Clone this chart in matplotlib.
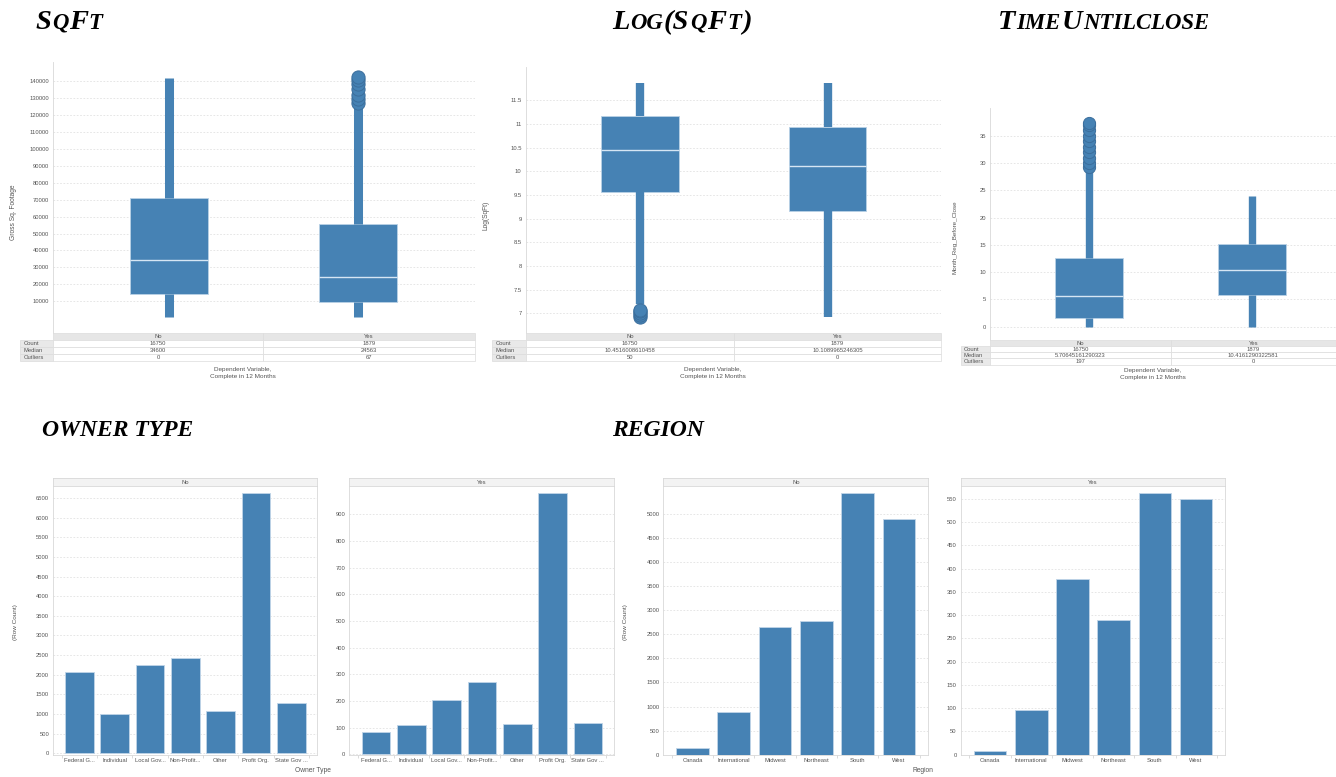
import matplotlib
matplotlib.use("Agg")
import matplotlib.pyplot as plt
from matplotlib.table import Table
import numpy as np

plt.rcParams["font.family"] = ["Liberation Sans", "DejaVu Sans"]

# ---- data ----
groups = ["No", "Yes"]
row_names = ["Count", "Median", "Outliers"]
counts = ["16750", "1879"]

sqft_q1 = [14200, 9600]
sqft_med = [34600, 24563]
sqft_q3 = [70800, 55500]
sqft_lo = [1000, 1000]
sqft_hi = [141600, 126000]
sqft_fliers = [[], [126800, 129500, 132000, 135100, 138000, 140500, 142200]]
sqft_median_txt = ["34600", "24563"]
sqft_outliers = ["0", "67"]

log_q1 = [9.556, 9.17]
log_med = [10.4516, 10.109]
log_q3 = [11.17, 10.93]
log_lo = [7.2, 6.92]
log_hi = [11.87, 11.87]
log_fliers = [[6.93, 6.97, 7.0, 7.04, 7.07], []]
log_median_txt = ["10.4516008610458", "10.1089965246305"]
log_outliers = ["50", "0"]

time_q1 = [1.53, 5.86]
time_med = [5.706, 10.416]
time_q3 = [12.65, 15.15]
time_lo = [0, 0]
time_hi = [29, 24]
time_fliers = [[29.3, 30, 31, 32, 33, 34, 35, 36, 37, 37.4], []]
time_median_txt = ["5.70645161290323", "10.4161290322581"]
time_outliers = ["197", "0"]

owner_types = ["Federal G...", "Individual", "Local Gov...", "Non-Profit...",
               "Other", "Profit Org.", "State Gov ..."]
owner_no = [2070, 990, 2240, 2420, 1085, 6635, 1285]
owner_yes = [84, 110, 204, 269, 112, 981, 117]

regions = ["Canada", "International", "Midwest", "Northeast", "South", "West"]
region_no = [130, 880, 2655, 2780, 5435, 4895]
region_yes = [8, 96, 378, 289, 563, 549]

# ---- layout helpers (pixel coords, origin top-left) ----
W, H = 1336, 777
BLUE = "#4682b4"
GRID = "#e2e2e2"
TXT = "#555555"
FRAME = "#d8d8d8"


def rect(x0, y0, x1, y1):
    return [x0 / W, 1 - y1 / H, (x1 - x0) / W, (y1 - y0) / H]


def ftext(x, y, s, **kw):
    kw.setdefault("color", TXT)
    kw.setdefault("ha", "center")
    kw.setdefault("va", "center")
    return fig.text(x / W, 1 - y / H, s, **kw)


fig = plt.figure(figsize=(W / 100, H / 100), dpi=100)
base = fig.add_axes([0, 0, 1, 1])
base.axis("off")


def caps_title(x, y, text, big=20.5, small=16.4):
    # small caps: lowercase letters become smaller capitals
    runs = []
    for ch in text:
        low = ch.islower()
        if runs and runs[-1][1] == low:
            runs[-1][0] += ch
        else:
            runs.append([ch, low])
    prev = None
    for s, low in runs:
        kw = dict(fontsize=small if low else big, family="Liberation Serif",
                  fontweight="bold", fontstyle="italic", ha="left", va="baseline",
                  color="black")
        s = s.upper()
        if prev is None:
            prev = base.text(x / W, 1 - y / H, s, transform=fig.transFigure, **kw)
        else:
            prev = base.annotate(s, xy=(1, 1 - y / H), xycoords=(prev, "figure fraction"),
                                 xytext=(0.6, 0), textcoords="offset points", **kw)


def box_panel(px, xlim, ylim, yticks, ytl, q1, med, q3, lo, hi, fliers, wlw, ms):
    ax = fig.add_axes(rect(*px))
    stats = [dict(q1=q1[i], med=med[i], q3=q3[i], whislo=lo[i], whishi=hi[i],
                  fliers=fliers[i], label=groups[i]) for i in range(2)]
    ax.bxp(stats, positions=[1, 2], widths=0.413, patch_artist=True, showcaps=False,
           boxprops=dict(facecolor=BLUE, edgecolor="#b9d1e6", linewidth=0.6),
           medianprops=dict(color="#d6e6f4", linewidth=1.0),
           whiskerprops=dict(color=BLUE, linewidth=wlw, solid_capstyle="butt"),
           flierprops=dict(marker="o", markersize=ms, markerfacecolor=BLUE,
                           markeredgecolor="#3b6e9c", markeredgewidth=0.7))
    ax.set_xlim(*xlim)
    ax.set_ylim(*ylim)
    ax.set_xticks([])
    ax.set_yticks(yticks)
    ax.set_yticklabels(ytl)
    ax.yaxis.grid(True, color=GRID, linestyle=(0, (2, 2)), linewidth=0.6)
    ax.set_axisbelow(True)
    ax.tick_params(axis="y", length=0, pad=3, labelsize=4.2, labelcolor=TXT)
    for k in ["top", "right", "bottom"]:
        ax.spines[k].set_visible(False)
    ax.spines["left"].set_color(FRAME)
    ax.spines["left"].set_linewidth(0.6)
    return ax


def stats_table(xs, y0, y1, cols):
    ax = fig.add_axes(rect(xs[0], y0, xs[3], y1))
    ax.axis("off")
    tbl = Table(ax, bbox=[0, 0, 1, 1])
    widths = np.diff(xs) / (xs[3] - xs[0])
    h = 1 / (len(row_names) + 1)
    hdr = [""] + groups
    for c in range(3):
        cell = tbl.add_cell(0, c, widths[c], h, text=hdr[c], loc="center",
                            facecolor="#e6e6e6" if c else "white")
        if c == 0:
            cell.visible_edges = ""
    for r, name in enumerate(row_names):
        tbl.add_cell(r + 1, 0, widths[0], h, text=name, loc="left", facecolor="#e9e9e9")
        for c in range(2):
            tbl.add_cell(r + 1, c + 1, widths[c + 1], h, text=cols[r][c], loc="center",
                         facecolor="white")
    tbl.auto_set_font_size(False)
    tbl.set_fontsize(4.2)
    for cell in tbl.get_celld().values():
        cell.set_edgecolor("#dcdcdc")
        cell.set_linewidth(0.5)
        cell.get_text().set_color(TXT)
    ax.add_table(tbl)


def bar_panel(px, cats, vals, header, xlim, ylim, yticks, width):
    hx = fig.add_axes(rect(px[0], 478, px[2], 486))
    hx.set_facecolor("#f3f3f3")
    hx.set_xticks([])
    hx.set_yticks([])
    for s in hx.spines.values():
        s.set_color(FRAME)
        s.set_linewidth(0.6)
    hx.text(0.5, 0.5, header, ha="center", va="center", fontsize=4.2, color=TXT,
            transform=hx.transAxes)

    ax = fig.add_axes(rect(*px))
    x = np.arange(len(cats))
    ax.bar(x, vals, width=width, color=BLUE, edgecolor="#c0d5e8", linewidth=0.6)
    ax.set_xlim(*xlim)
    ax.set_ylim(*ylim)
    ax.set_yticks(yticks)
    ax.yaxis.grid(True, color=GRID, linestyle=(0, (2, 2)), linewidth=0.6)
    ax.set_axisbelow(True)
    ax.set_xticks(x)
    ax.set_xticklabels(cats)
    ax.set_xticks(np.arange(len(cats) + 1) - 0.5, minor=True)
    ax.tick_params(axis="x", which="major", length=0, pad=2, labelsize=4.2, labelcolor=TXT)
    ax.tick_params(axis="x", which="minor", length=1.8, width=0.5, color="#cccccc")
    ax.tick_params(axis="y", length=0, pad=2.8, labelsize=4.2, labelcolor=TXT)
    for s in ax.spines.values():
        s.set_color(FRAME)
        s.set_linewidth(0.6)
    return ax


# ---- section titles ----
caps_title(35, 29, "SqFt")
caps_title(612, 29, "Log(SqFt)")
caps_title(998, 29, "TimeUntilclose")
caps_title(42, 436, "OWNER TYPE", big=17, small=17)
caps_title(612, 436, "REGION", big=17, small=17)

# ---- box plots ----
box_panel((53, 62, 475, 333), (0.386, 2.619), (-8670, 151200),
          np.arange(10000, 140001, 10000), [str(v) for v in range(10000, 140001, 10000)],
          sqft_q1, sqft_med, sqft_q3, sqft_lo, sqft_hi, sqft_fliers, 6.5, 9.5)
stats_table([20, 53, 263, 475], 333, 361,
            [counts, sqft_median_txt, sqft_outliers])
ftext(243, 373, "Dependent Variable,\nComplete in 12 Months", fontsize=4.6, linespacing=1.4)
ftext(13.3, 212, "Gross Sq. Footage", fontsize=4.8, rotation=90)

log_ticks = np.arange(7, 11.51, 0.5)
box_panel((525.7, 66.7, 941, 333), (0.39, 2.605), (6.584, 12.21),
          log_ticks, ["%g" % v for v in log_ticks],
          log_q1, log_med, log_q3, log_lo, log_hi, log_fliers, 6.0, 9.5)
stats_table([492.3, 525.7, 734, 941], 333, 361,
            [counts, log_median_txt, log_outliers])
ftext(713, 373, "Dependent Variable,\nComplete in 12 Months", fontsize=4.6, linespacing=1.4)
ftext(486, 215, "Log(SqFt)", fontsize=4.8, rotation=90)

time_ticks = np.arange(0, 36, 5)
box_panel((990, 108.3, 1336, 340), (0.393, 2.515), (-2.44, 40.02),
          time_ticks, [str(v) for v in time_ticks],
          time_q1, time_med, time_q3, time_lo, time_hi, time_fliers, 5.3, 8.8)
stats_table([960.7, 990, 1170.7, 1336], 340, 364.5,
            [counts, time_median_txt, time_outliers])
ftext(1153, 374, "Dependent Variable,\nComplete in 12 Months", fontsize=4.6, linespacing=1.4)
ftext(955, 237, "Month_Reg_Before_Close", fontsize=4.5, rotation=90)

# ---- bar charts ----
bar_panel((53, 486, 317, 755), owner_types, owner_no, "No", (-0.745, 6.73), (-43, 6805),
          np.arange(0, 6501, 500), 0.81)
bar_panel((349.3, 486, 614, 755), owner_types, owner_yes, "Yes", (-0.756, 6.74), (-3, 1006),
          np.arange(0, 901, 100), 0.81)
ftext(15.7, 622, "(Row Count)", fontsize=4.6, rotation=90)
ftext(313, 771, "Owner Type", fontsize=4.8)

bar_panel((663.3, 486, 928.3, 755), regions, region_no, "No", (-0.707, 5.71), (-6, 5575),
          np.arange(0, 5001, 500), 0.79)
bar_panel((960.7, 486, 1225, 755), regions, region_yes, "Yes", (-0.711, 5.70), (-1, 578),
          np.arange(0, 551, 50), 0.79)
ftext(625, 622, "(Row Count)", fontsize=4.6, rotation=90)
ftext(923, 771, "Region", fontsize=4.8)

fig.savefig("out.png", dpi=100)
